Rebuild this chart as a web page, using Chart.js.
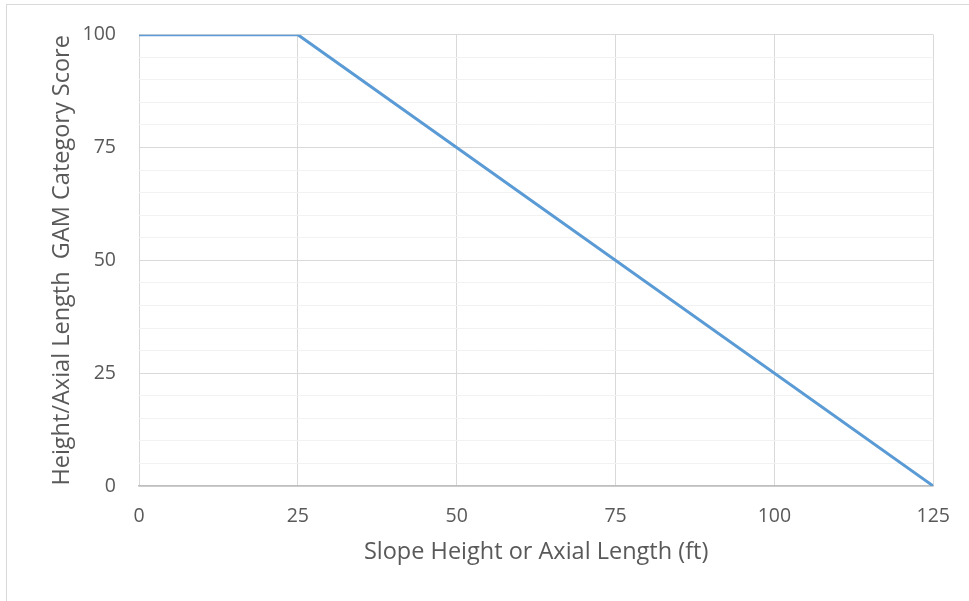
<!DOCTYPE html>
<html>
<head>
<meta charset="utf-8">
<script src="https://cdn.jsdelivr.net/npm/chart.js@4"></script>
<style>
    html, body { margin: 0; padding: 0; background: #fff; overflow: hidden; }
    .frame {
        position: absolute; left: 6px; top: 4px; width: 1000px; height: 700px;
        border: 1px solid #d9d9d9;
    }
    #scoreChart { position: absolute; left: 0; top: 0; }
</style>
</head>
<body>
<div class="frame"></div>
<canvas id="scoreChart" width="969" height="601"></canvas>
<script>
// Data
const slopeHeights = [0, 25, 125];      // ft
const categoryScores = [100, 100, 0];
const xTicks = [0, 25, 50, 75, 100, 125];
const yTicks = [0, 25, 50, 75, 100];

const textColor = '#595959';
const fontFamily = '"Open Sans", sans-serif';

const ctx = document.getElementById('scoreChart').getContext('2d');

const chart = new Chart(ctx, {
    type: 'scatter',
    data: {
        datasets: [{
            label: 'Score',
            data: slopeHeights.map((x, i) => ({ x: x, y: categoryScores[i] })),
            showLine: true,
            borderColor: '#5b9bd5',
            borderWidth: 3,
            pointRadius: 0,
            tension: 0
        }]
    },
    options: {
        responsive: false,
        animation: false,
        devicePixelRatio: 1,
        layout: { padding: { top: 33, right: 35, bottom: 0, left: 0 } },
        plugins: {
            legend: { display: false },
            tooltip: { enabled: false }
        },
        scales: {
            x: {
                type: 'linear',
                min: xTicks[0],
                max: xTicks[xTicks.length - 1],
                afterBuildTicks: (scale) => { scale.ticks = xTicks.map(v => ({ value: v })); },
                afterFit: (scale) => { scale.height = 115; },
                ticks: {
                    color: textColor,
                    font: { family: fontFamily, size: 19.5 },
                    padding: 19,
                    maxRotation: 0,
                    autoSkip: false
                },
                grid: { color: '#d9d9d9', lineWidth: 1, drawTicks: false },
                border: { color: '#bfbfbf', width: 1.5 },
                title: {
                    display: true,
                    text: 'Slope Height or Axial Length (ft)',
                    color: textColor,
                    font: { family: fontFamily, size: 23.5 },
                    padding: { top: 0, bottom: 35 }
                }
            },
            y: {
                min: 0,
                max: 100,
                afterBuildTicks: (scale) => {
                    const t = [];
                    for (let v = 0; v <= 100; v += 5) t.push({ value: v });
                    scale.ticks = t;
                },
                afterFit: (scale) => { scale.width = 139; },
                ticks: {
                    color: textColor,
                    font: { family: fontFamily, size: 19.5 },
                    padding: 23,
                    autoSkip: false,
                    callback: (v) => yTicks.includes(v) ? String(v) : ''
                },
                grid: {
                    drawTicks: false,
                    lineWidth: 1,
                    color: (c) => (c.tick && c.tick.value % 25 === 0) ? '#d9d9d9' : '#f2f2f2'
                },
                border: { display: false },
                title: {
                    display: true,
                    text: 'Height/Axial Length  GAM Category Score',
                    color: textColor,
                    font: { family: fontFamily, size: 23.5 },
                    padding: { top: 48, bottom: 0 }
                }
            }
        }
    }
});
</script>
</body>
</html>
